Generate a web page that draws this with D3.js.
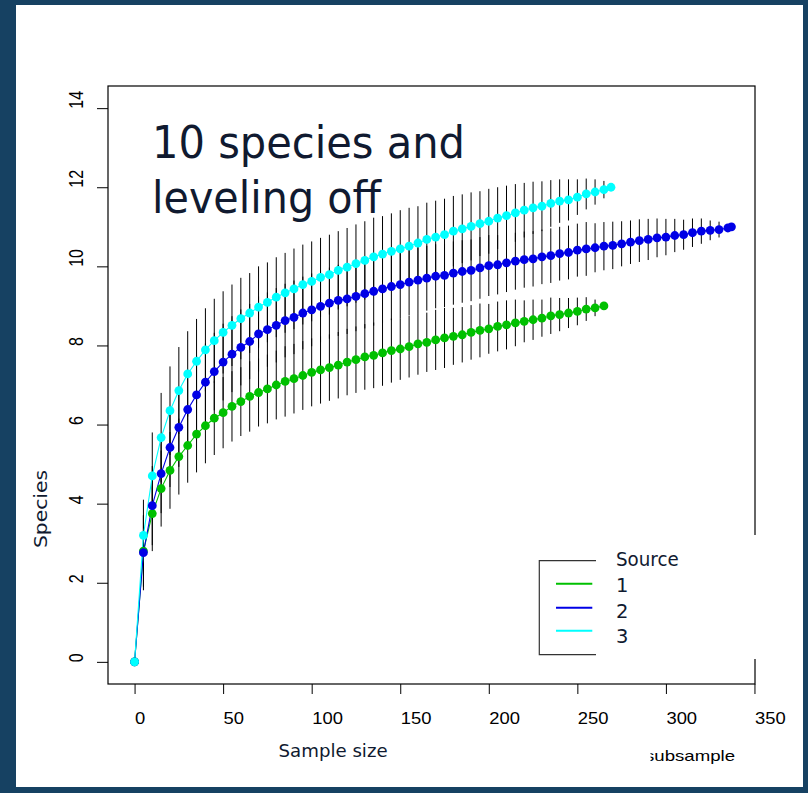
<!DOCTYPE html>
<html><head><meta charset="utf-8">
<script src="https://cdn.jsdelivr.net/npm/d3@7"></script>
<style>body{margin:0;background:#164162;} svg{display:block}</style>
</head><body>
<svg id="c" width="808" height="793"></svg>
<script>
// ---------- data ----------
const xTicks = [0, 50, 100, 150, 200, 250, 300, 350];
const yTicks = [0, 2, 4, 6, 8, 10, 12, 14];
const legendTitle = "Source";
const seriesNames = ["1", "2", "3"];

const greenX = [0,5,10,15,20,25,30,35,40,45,50,55,60,65,70,75,80,85,90,95,100,105,110,115,120,125,130,135,140,145,150,155,160,165,170,175,180,185,190,195,200,205,210,215,220,225,230,235,240,245,250,255,260,265];
const greenY = [0,2.8,3.75,4.38,4.84,5.19,5.47,5.76,5.97,6.16,6.30,6.46,6.58,6.71,6.81,6.90,7.00,7.09,7.16,7.24,7.32,7.38,7.44,7.50,7.58,7.64,7.71,7.75,7.81,7.87,7.91,7.97,8.04,8.08,8.14,8.19,8.23,8.27,8.33,8.38,8.42,8.48,8.52,8.57,8.61,8.65,8.69,8.75,8.78,8.82,8.86,8.92,8.95,9.00];
const greenErr = [0,0.9,0.95,0.96,0.97,0.96,0.94,0.97,0.95,0.93,0.90,0.89,0.87,0.89,0.86,0.87,0.87,0.89,0.88,0.87,0.86,0.85,0.84,0.84,0.84,0.84,0.83,0.83,0.83,0.81,0.78,0.78,0.78,0.75,0.76,0.76,0.72,0.70,0.69,0.68,0.63,0.63,0.62,0.59,0.53,0.51,0.47,0.46,0.42,0.38,0.35,0.30,0.21,0.10];

const blueX = [0,5,10,15,20,25,30,35,40,45,50,55,60,65,70,75,80,85,90,95,100,105,110,115,120,125,130,135,140,145,150,155,160,165,170,175,180,185,190,195,200,205,210,215,220,225,230,235,240,245,250,255,260,265,270,275,280,285,290,295,300,305,310,315,320,325,330,335,337];
const blueY = [0,2.76,3.95,4.76,5.42,5.93,6.38,6.75,7.07,7.34,7.58,7.78,7.95,8.10,8.29,8.40,8.51,8.63,8.71,8.82,8.90,8.99,9.07,9.14,9.18,9.24,9.31,9.37,9.43,9.49,9.54,9.60,9.65,9.70,9.75,9.77,9.83,9.87,9.90,9.96,10.02,10.04,10.09,10.13,10.17,10.19,10.24,10.27,10.32,10.35,10.41,10.44,10.47,10.51,10.53,10.57,10.61,10.65,10.68,10.72,10.74,10.78,10.80,10.85,10.89,10.91,10.93,10.97,11.0];
const blueErr = [0,0.95,1.0,1.0,1.0,1.0,1.0,0.99,0.98,0.98,0.97,0.96,0.96,0.95,0.95,0.94,0.94,0.93,0.93,0.92,0.92,0.91,0.90,0.90,0.89,0.88,0.88,0.87,0.86,0.85,0.85,0.84,0.83,0.82,0.81,0.80,0.80,0.79,0.78,0.78,0.77,0.75,0.74,0.72,0.71,0.70,0.69,0.69,0.68,0.68,0.67,0.68,0.62,0.61,0.60,0.57,0.55,0.54,0.52,0.49,0.46,0.42,0.38,0.36,0.32,0.25,0.20,0.10,0];

const cyanX = [0,5,10,15,20,25,30,35,40,45,50,55,60,65,70,75,80,85,90,95,100,105,110,115,120,125,130,135,140,145,150,155,160,165,170,175,180,185,190,195,200,205,210,215,220,225,230,235,240,245,250,255,260,265,269];
const cyanY = [0,3.2,4.7,5.67,6.35,6.86,7.28,7.60,7.89,8.12,8.33,8.51,8.68,8.82,8.97,9.09,9.22,9.33,9.43,9.54,9.62,9.72,9.79,9.90,9.98,10.07,10.15,10.24,10.31,10.38,10.44,10.51,10.59,10.68,10.74,10.80,10.89,10.95,11.01,11.08,11.14,11.22,11.28,11.35,11.42,11.48,11.52,11.59,11.65,11.68,11.75,11.83,11.88,11.94,12.0];
const cyanErr = [0,0.9,1.1,1.13,1.12,1.1,1.08,1.07,1.05,1.06,1.04,1.03,1.03,1.01,1.03,1.01,1.01,1.01,1.02,1.01,1.01,1.0,1.01,0.99,0.99,0.99,0.99,0.99,0.96,0.96,0.98,0.97,0.93,0.93,0.92,0.91,0.89,0.87,0.86,0.82,0.82,0.78,0.76,0.73,0.69,0.66,0.63,0.59,0.55,0.52,0.45,0.39,0.32,0.22,0];

// ---------- styles ----------
const colors = ["#00c000", "#0000e6", "#00ffff"];
const navy = "#101a30";
const series = [
  {x: greenX, y: greenY, e: greenErr},
  {x: blueX, y: blueY, e: blueErr},
  {x: cyanX, y: cyanY, e: cyanErr}
];

const svg = d3.select("#c");
svg.append("rect").attr("x", 16).attr("y", 5).attr("width", 787).attr("height", 782).attr("fill", "#fff");

const x = d3.scaleLinear().domain([-15, 350.3]).range([108, 755]);
const y = d3.scaleLinear().domain([-0.56, 14.56]).range([684, 86]);

const g = svg.append("g");

// error bars
series.forEach(s => {
  g.append("g").selectAll("line").data(s.x.map((xv, i) => ({xv, v: s.y[i], e: s.e[i]})).filter(d => d.e > 0))
    .join("line")
    .attr("x1", d => x(d.xv)).attr("x2", d => x(d.xv))
    .attr("y1", d => y(d.v - d.e)).attr("y2", d => y(d.v + d.e))
    .attr("stroke", "#000").attr("stroke-width", 1);
});

// lines + points
series.forEach((s, k) => {
  const pts = s.x.map((xv, i) => [xv, s.y[i]]);
  g.append("path").datum(pts)
    .attr("d", d3.line().x(d => x(d[0])).y(d => y(d[1])))
    .attr("fill", "none").attr("stroke", colors[k]).attr("stroke-width", 1.1);
});
series.forEach((s, k) => {
  g.append("g").selectAll("circle").data(s.x.map((xv, i) => [xv, s.y[i]]))
    .join("circle")
    .attr("cx", d => x(d[0])).attr("cy", d => y(d[1])).attr("r", 4.4)
    .attr("fill", colors[k]);
});

// box
svg.append("rect").attr("x", x(-15)).attr("y", y(14.56))
  .attr("width", x(350.3) - x(-15)).attr("height", y(-0.56) - y(14.56))
  .attr("fill", "none").attr("stroke", "#000").attr("stroke-width", 1.2);

// x axis
const xa = svg.append("g").attr("transform", `translate(0,${y(-0.56)})`)
  .call(d3.axisBottom(x).tickValues(xTicks).tickSize(10).tickFormat(d => d));
xa.select(".domain").remove();
xa.selectAll(".tick line").attr("stroke", "#000");
xa.selectAll(".tick text")
  .attr("x", 0).attr("y", null).attr("dy", null)
  .attr("text-anchor", "start")
  .attr("transform", "translate(0,39.5) scale(1.15,1)")
  .attr("font-family", "Liberation Sans, Arial, sans-serif")
  .attr("font-size", 16).attr("fill", "#000");

// y axis
const ya = svg.append("g").attr("transform", `translate(${x(-15)},0)`)
  .call(d3.axisLeft(y).tickValues(yTicks).tickSize(11).tickFormat(d => d));
ya.select(".domain").remove();
ya.selectAll(".tick line").attr("stroke", "#000");
ya.selectAll(".tick text")
  .attr("x", 0).attr("y", 0).attr("dy", null)
  .attr("text-anchor", "start")
  .attr("dominant-baseline", "central")
  .attr("transform", "translate(-32,0) rotate(-90) scale(1,1.25)")
  .attr("font-family", "Liberation Sans, Arial, sans-serif")
  .attr("font-size", 16).attr("fill", "#000");

// legend
const lg = svg.append("g");
lg.append("path").attr("d", "M596,560.7 H539.3 V654.7 H596")
  .attr("fill", "none").attr("stroke", "#333").attr("stroke-width", 1.2);
lg.append("rect").attr("x", 596).attr("y", 535).attr("width", 170).attr("height", 124).attr("fill", "#fff");
const lineYs = [583.7, 607.7, 630.7];
const textYs = [591.7, 617.7, 642.5];
seriesNames.forEach((n, k) => {
  lg.append("line").attr("x1", 556).attr("x2", 592.3).attr("y1", lineYs[k]).attr("y2", lineYs[k])
    .attr("stroke", colors[k]).attr("stroke-width", 2);
  lg.append("text").attr("x", 616).attr("y", textYs[k]).text(n)
    .attr("font-family", "DejaVu Sans, sans-serif").attr("font-size", 19.5).attr("fill", navy);
});
lg.append("text").attr("x", 616).attr("y", 565.7).text(legendTitle)
  .attr("font-family", "DejaVu Sans, sans-serif").attr("font-size", 19.5).attr("fill", navy)
  .attr("textLength", 62.7).attr("lengthAdjust", "spacingAndGlyphs");

// title
const title = ["10 species and", "leveling off"];
const titleW = [313, 229];
const titleY = [158, 213];
title.forEach((t, i) => {
  svg.append("text").attr("x", 152).attr("y", titleY[i]).text(t)
    .attr("font-family", "DejaVu Sans, sans-serif").attr("font-size", 44).attr("fill", navy)
    .attr("textLength", titleW[i]).attr("lengthAdjust", "spacingAndGlyphs");
});

// axis titles
svg.append("text").attr("x", 278.6).attr("y", 757).text("Sample size")
  .attr("font-family", "DejaVu Sans, sans-serif").attr("font-size", 17.5).attr("fill", navy)
  .attr("textLength", 109).attr("lengthAdjust", "spacingAndGlyphs");
svg.append("text").attr("transform", "translate(47,548) rotate(-90)").text("Species")
  .attr("font-family", "DejaVu Sans, sans-serif").attr("font-size", 18.5).attr("fill", navy)
  .attr("textLength", 78).attr("lengthAdjust", "spacingAndGlyphs");

// partially hidden "subsample"
svg.append("text").attr("x", 645).attr("y", 760.5).text("subsample")
  .attr("font-family", "Liberation Sans, Arial, sans-serif").attr("font-size", 15).attr("fill", "#000")
  .attr("textLength", 90).attr("lengthAdjust", "spacingAndGlyphs");
svg.append("rect").attr("x", 600).attr("y", 742).attr("width", 50.5).attr("height", 26).attr("fill", "#fff");
</script>
</body></html>
